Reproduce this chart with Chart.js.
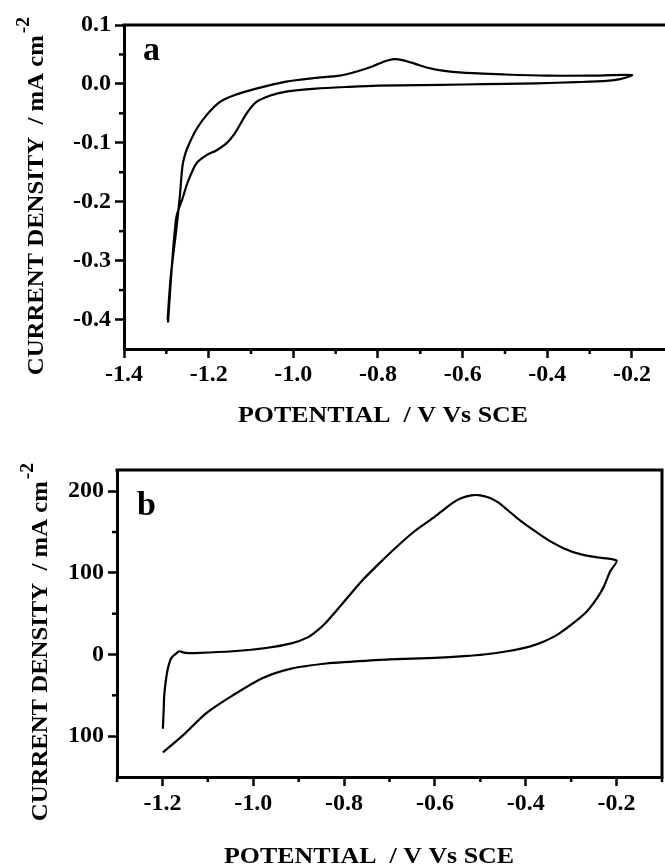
<!DOCTYPE html>
<html lang="en">
<head>
<meta charset="UTF-8">
<title>Cyclic voltammograms</title>
<script src="https://cdn.jsdelivr.net/npm/chart.js@4.4.0/dist/chart.umd.min.js"></script>
<style>
  body { margin: 0; background: #fff; width: 665px; height: 867px; position: relative; overflow: hidden; }
  .box { position: absolute; left: 0; width: 665px; }
  #boxA { top: 0; height: 430px; }
  #boxB { top: 430px; height: 437px; }
</style>
</head>
<body>
<div class="box" id="boxA"><canvas id="chartA"></canvas></div>
<div class="box" id="boxB"><canvas id="chartB"></canvas></div>
<script>
// ---- panel a : potential (V vs SCE) / current density (mA cm-2)
const potentialA = [-1.297, -1.290, -1.282, -1.276, -1.268, -1.262, -1.255, -1.245, -1.229, -1.205, -1.174,
  -1.143, -1.088, -1.017, -0.950, -0.890, -0.850, -0.812, -0.785, -0.762, -0.740,
  -0.712, -0.680, -0.652, -0.600, -0.500, -0.400, -0.300, -0.200,
  -0.228, -0.260, -0.330, -0.426, -0.500, -0.600, -0.700, -0.800, -0.868, -0.947,
  -1.017, -1.056, -1.088, -1.111, -1.139, -1.158, -1.182, -1.205, -1.229, -1.249,
  -1.262, -1.276, -1.286, -1.296];
const currentA = [-0.400, -0.330, -0.280, -0.245, -0.190, -0.140, -0.118, -0.100, -0.077, -0.053, -0.031,
  -0.020, -0.008, 0.004, 0.010, 0.014, 0.021, 0.030, 0.038, 0.042, 0.040,
  0.034, 0.027, 0.023, 0.019, 0.016, 0.014, 0.014, 0.015,
  0.008, 0.005, 0.003, 0.001, 0.000, -0.001, -0.002, -0.003, -0.005, -0.008,
  -0.013, -0.020, -0.031, -0.051, -0.085, -0.101, -0.113, -0.121, -0.135, -0.166,
  -0.195, -0.225, -0.300, -0.405];
const xTicksA = [-1.4, -1.3, -1.2, -1.1, -1.0, -0.9, -0.8, -0.7, -0.6, -0.5, -0.4, -0.3, -0.2];
const xLabelsA = ['-1.4', '', '-1.2', '', '-1.0', '', '-0.8', '', '-0.6', '', '-0.4', '', '-0.2'];
const yTicksA = [0.1, 0.05, 0, -0.05, -0.1, -0.15, -0.2, -0.25, -0.3, -0.35, -0.4];
const yLabelsA = ['0.1', '', '0.0', '', '-0.1', '', '-0.2', '', '-0.3', '', '-0.4'];

// ---- panel b
const potentialB = [-1.199, -1.197, -1.196, -1.192, -1.188, -1.182, -1.177, -1.170, -1.163, -1.150,
  -1.119, -1.045, -0.972, -0.914, -0.880, -0.862, -0.840, -0.818, -0.789, -0.756,
  -0.720, -0.690, -0.645, -0.600, -0.560, -0.540, -0.520, -0.500, -0.480, -0.460, -0.440, -0.412, -0.382,
  -0.353, -0.316, -0.280, -0.243, -0.200,
  -0.214, -0.229, -0.243, -0.265, -0.294, -0.331, -0.360, -0.390, -0.441, -0.492,
  -0.536, -0.600, -0.700, -0.789, -0.840, -0.914, -0.980, -1.045, -1.104, -1.155, -1.199];
const currentB = [-91, -65, -50, -30, -17, -6, -2, 1, 4, 2,
  2, 4, 8, 14, 21, 28, 39, 53, 72, 93,
  113, 129, 151, 169, 186, 192, 195, 195, 192, 186, 177, 164, 152,
  141, 130, 123, 119, 115,
  102, 82, 69, 53, 39, 24, 16, 10, 4, 0,
  -2, -4, -6, -9, -11, -17, -29, -50, -72, -99, -120];
const xTicksB = [-1.3, -1.2, -1.1, -1.0, -0.9, -0.8, -0.7, -0.6, -0.5, -0.4, -0.3, -0.2, -0.1];
const xLabelsB = ['', '-1.2', '', '-1.0', '', '-0.8', '', '-0.6', '', '-0.4', '', '-0.2', ''];
const yTicksB = [200, 150, 100, 50, 0, -50, -100];
const yLabelsB = ['200', '', '100', '', '0', '', '100'];

const serif = '"Liberation Serif", "Times New Roman", serif';

function makeChart(id, d) {
  const pts = d.x.map((v, i) => ({ x: v, y: d.y[i] }));

  const decor = {
    id: 'decor',
    afterDraw(chart) {
      const ctx = chart.ctx, a = chart.chartArea;
      const xs = chart.scales.x, ys = chart.scales.y;
      ctx.save();
      ctx.strokeStyle = '#000';
      ctx.lineWidth = 3;
      ctx.beginPath();
      ctx.moveTo(a.left - 1.5, a.top);
      ctx.lineTo(a.right, a.top);
      if (d.rightBorder) ctx.lineTo(a.right, a.bottom + 1.5);
      ctx.stroke();

      // short minor ticks
      ctx.lineWidth = 2.5;
      ys.ticks.forEach((t, i) => {
        if (d.yLabels[i]) return;
        const p = ys.getPixelForValue(t.value);
        ctx.beginPath(); ctx.moveTo(a.left, p); ctx.lineTo(a.left - 5, p); ctx.stroke();
      });
      xs.ticks.forEach((t, i) => {
        if (d.xLabels[i]) return;
        const p = xs.getPixelForValue(t.value);
        ctx.beginPath(); ctx.moveTo(p, a.bottom); ctx.lineTo(p, a.bottom + 5); ctx.stroke();
      });

      ctx.fillStyle = '#000';
      // panel letter
      ctx.font = 'bold 34px ' + serif;
      ctx.textAlign = 'left';
      ctx.textBaseline = 'alphabetic';
      ctx.fillText(d.letter, d.letterX, d.letterY);

      // x title (the printed lettering is a bit wide, so stretch slightly)
      ctx.save();
      ctx.font = 'bold 24px ' + serif;
      ctx.textAlign = 'center';
      ctx.translate(d.xTitleX, d.xTitleY);
      ctx.scale(1.08, 1);
      ctx.fillText('POTENTIAL  / V Vs SCE', 0, 0);
      ctx.restore();

      // y title with superscript
      const main = 'CURRENT DENSITY  / mA cm';
      const k = 1.03;
      ctx.font = 'bold 24px ' + serif;
      const w1 = ctx.measureText(main).width;
      ctx.font = 'bold 19px ' + serif;
      const w2 = ctx.measureText('-2').width;
      const total = (w1 + w2 + 2) * k;
      ctx.translate(d.yTitleX, d.yTitleMid + total / 2);
      ctx.rotate(-Math.PI / 2);
      ctx.scale(k, 1);
      ctx.textAlign = 'left';
      ctx.font = 'bold 24px ' + serif;
      ctx.fillText(main, 0, 0);
      ctx.font = 'bold 19px ' + serif;
      ctx.fillText('-2', w1 + 2, -14);
      ctx.restore();
    }
  };

  const tickFont = { family: serif, size: 24, weight: 'bold' };

  return new Chart(document.getElementById(id), {
    type: 'scatter',
    data: {
      datasets: [{
        data: pts,
        showLine: true,
        borderColor: '#000',
        borderWidth: 2.2,
        pointRadius: 0,
        tension: 0.25,
        fill: false
      }]
    },
    options: {
      responsive: true,
      maintainAspectRatio: false,
      devicePixelRatio: 1,
      animation: false,
      layout: { padding: { top: d.padTop, right: d.padRight, left: 0, bottom: 0 } },
      plugins: { legend: { display: false }, tooltip: { enabled: false } },
      scales: {
        x: {
          type: 'linear',
          min: d.xMin, max: d.xMax,
          afterBuildTicks: s => { s.ticks = d.xTicks.map(v => ({ value: v })); },
          afterFit: s => { s.height = d.bottomH; },
          border: { display: true, width: 3, color: '#000' },
          grid: {
            drawOnChartArea: false, drawTicks: true, tickLength: 9, tickWidth: 2.5,
            tickColor: c => d.xLabels[c.index] ? '#000' : 'rgba(0,0,0,0)'
          },
          ticks: {
            autoSkip: false, maxRotation: 0, padding: d.xPad, color: '#000', font: tickFont,
            callback: (v, i) => d.xLabels[i]
          }
        },
        y: {
          type: 'linear',
          min: d.yMin, max: d.yMax,
          afterBuildTicks: s => { s.ticks = d.yTicks.map(v => ({ value: v })); },
          afterFit: s => { s.width = d.leftW; },
          border: { display: true, width: 3, color: '#000' },
          grid: {
            drawOnChartArea: false, drawTicks: true, tickLength: 9, tickWidth: 2.5,
            tickColor: c => d.yLabels[c.index] ? '#000' : 'rgba(0,0,0,0)'
          },
          ticks: {
            autoSkip: false, padding: 4, color: '#000', font: tickFont,
            callback: (v, i) => d.yLabels[i]
          }
        }
      }
    },
    plugins: [decor]
  });
}

makeChart('chartA', {
  x: potentialA, y: currentA,
  xTicks: xTicksA, xLabels: xLabelsA, yTicks: yTicksA, yLabels: yLabelsA,
  xMin: -1.4, xMax: -0.122, yMin: -0.45, yMax: 0.1,
  leftW: 124, bottomH: 81, padTop: 25, padRight: 0, xPad: 2,
  rightBorder: false,
  letter: 'a', letterX: 143, letterY: 60,
  xTitleX: 383, xTitleY: 422,
  yTitleX: 43, yTitleMid: 196
});

makeChart('chartB', {
  x: potentialB, y: currentB,
  xTicks: xTicksB, xLabels: xLabelsB, yTicks: yTicksB, yLabels: yLabelsB,
  xMin: -1.3, xMax: -0.1, yMin: -150, yMax: 226,
  leftW: 117, bottomH: 90, padTop: 40, padRight: 3, xPad: 3,
  rightBorder: true,
  letter: 'b', letterX: 137, letterY: 85,
  xTitleX: 369, xTitleY: 433,
  yTitleX: 47, yTitleMid: 212
});
</script>
</body>
</html>
